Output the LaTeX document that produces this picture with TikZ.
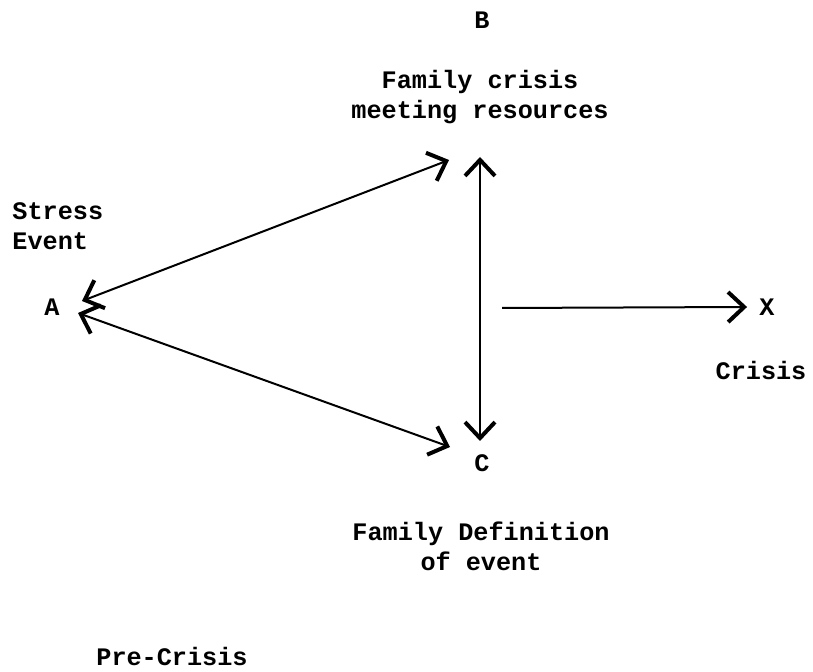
\documentclass[tikz,border=0pt]{standalone}
\usepackage{fontspec}
\setmonofont{Liberation Mono}
\usetikzlibrary{arrows.meta}

\tikzset{
  lbl/.style={font=\ttfamily\bfseries\fontsize{12.6}{15}\selectfont, inner sep=0pt, align=center},
  barb/.style={line width=1pt, arrows={Straight Barb[length=8pt,width=15pt,line width=2pt]-Straight Barb[length=8pt,width=15pt,line width=2pt]}},
  onebarb/.style={line width=1pt, -{Straight Barb[length=8pt,width=15pt,line width=2pt]}}
}

\begin{document}
\begin{tikzpicture}[x=0.5pt,y=-0.5pt]
\useasboundingbox (0,0) rectangle (813,672);

% labels
\node[lbl] (B) at (482,20) {B};
\node[lbl] (Bdesc) at (480,97) {Family crisis\\meeting resources};
\node[lbl, anchor=west, align=left] (Adesc) at (12,226) {Stress\\Event};
\node[lbl] (A) at (52,307) {A};
\node[lbl] (C) at (482,463) {C};
\node[lbl] (Cdesc) at (481,546) {Family Definition\\of event};
\node[lbl] (X) at (767,307) {X};
\node[lbl] (Xdesc) at (761,370) {Crisis};
\node[lbl] (pre) at (172,656) {Pre-Crisis};

% arrow ends
\coordinate (aup) at (82,301);
\coordinate (alow) at (78,313);
\coordinate (bin) at (449,160);
\coordinate (cin) at (450,447);
\coordinate (btop) at (480,157);
\coordinate (cbot) at (480,441);
\coordinate (xfrom) at (502,308);

% connectors
\draw[barb] (aup) -- (bin);
\draw[barb] (alow) -- (cin);
\draw[barb] (btop) -- (cbot);
\draw[onebarb] (xfrom) -- ([xshift=-6]X.west);
\end{tikzpicture}
\end{document}
